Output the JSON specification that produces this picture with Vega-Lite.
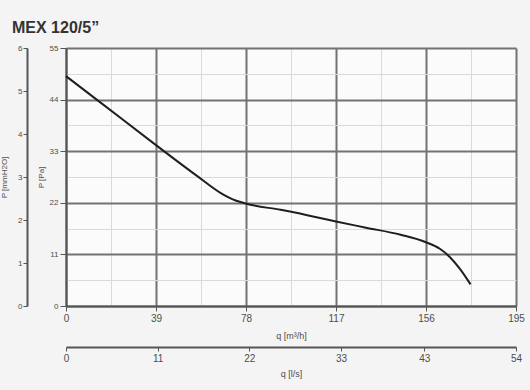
{
  "$schema": "https://vega.github.io/schema/vega-lite/v6.json",
  "width": 450,
  "height": 258,
  "autosize": {"type": "none"},
  "padding": {"left": 66, "top": 48, "right": 14, "bottom": 84},
  "background": "#f4f4f4",
  "title": {
    "text": "MEX 120/5”",
    "anchor": "start",
    "frame": "group",
    "dx": -54,
    "fontSize": 16,
    "fontWeight": "bold",
    "font": "Liberation Sans",
    "color": "#333333",
    "offset": 8
  },
  "config": {
    "view": {"stroke": null, "fill": "#fbfbfb"},
    "axis": {
      "labelFont": "Liberation Sans",
      "titleFont": "Liberation Sans",
      "labelColor": "#4d4d4d",
      "titleColor": "#4d4d4d",
      "titleFontWeight": "normal",
      "domainColor": "#555555",
      "tickColor": "#555555"
    }
  },
  "layer": [
    {
      "data": {
        "values": [
          {"q": 0, "p": 49.0},
          {"q": 13.3, "p": 44.0},
          {"q": 39, "p": 34.3},
          {"q": 56.6, "p": 27.8},
          {"q": 68, "p": 23.8},
          {"q": 72, "p": 22.8},
          {"q": 76, "p": 22.1},
          {"q": 80, "p": 21.6},
          {"q": 93, "p": 20.5},
          {"q": 105, "p": 19.3},
          {"q": 117, "p": 18.0},
          {"q": 130, "p": 16.7},
          {"q": 145, "p": 15.2},
          {"q": 156, "p": 13.6},
          {"q": 162, "p": 12.2},
          {"q": 166.4, "p": 10.4},
          {"q": 170.7, "p": 7.9},
          {"q": 175.3, "p": 4.6}
        ]
      },
      "mark": {"type": "line", "color": "#1e1e1e", "strokeWidth": 2, "interpolate": "monotone"},
      "encoding": {
        "x": {
          "field": "q",
          "type": "quantitative",
          "scale": {"domain": [0, 195], "nice": false, "zero": false},
          "axis": {
            "values": [0, 19.5, 39, 58.5, 78, 97.5, 117, 136.5, 156, 175.5, 195],
            "labelExpr": "datum.value % 39 === 0 ? datum.label : ''",
            "grid": true,
            "gridColor": {"condition": {"test": "datum.value % 39 === 0", "value": "#737373"}, "value": "#dadada"},
            "gridWidth": {"condition": {"test": "datum.value % 39 === 0", "value": 2}, "value": 1},
            "tickColor": {"condition": {"test": "datum.value % 39 === 0", "value": "#555555"}, "value": "transparent"},
            "tickSize": 5,
            "labelPadding": 2,
            "labelFontSize": 10,
            "labelFlush": false,
            "domainWidth": 2,
            "title": "q [m³/h]",
            "titleFontSize": 9,
            "titlePadding": 8
          }
        },
        "y": {
          "field": "p",
          "type": "quantitative",
          "scale": {"domain": [0, 55], "nice": false, "zero": false},
          "axis": {
            "values": [0, 5.5, 11, 16.5, 22, 27.5, 33, 38.5, 44, 49.5, 55],
            "labelExpr": "datum.value % 11 === 0 ? datum.label : ''",
            "grid": true,
            "gridColor": {"condition": {"test": "datum.value % 11 === 0", "value": "#737373"}, "value": "#dadada"},
            "gridWidth": {"condition": {"test": "datum.value % 11 === 0", "value": 2}, "value": 1},
            "tickColor": {"condition": {"test": "datum.value % 11 === 0", "value": "#555555"}, "value": "transparent"},
            "tickSize": 6,
            "labelPadding": 2,
            "labelFontSize": 8,
            "labelFlush": false,
            "domainWidth": 2,
            "title": "P [Pa]",
            "titleFontSize": 8,
            "titlePadding": 4
          }
        }
      }
    },
    {
      "data": {"values": [{"ls": 0, "mm": 0}, {"ls": 54, "mm": 6}]},
      "mark": {"type": "point", "opacity": 0},
      "encoding": {
        "x": {
          "field": "ls",
          "type": "quantitative",
          "scale": {"domain": [0, 54], "nice": false, "zero": false},
          "axis": {
            "orient": "bottom",
            "offset": 41,
            "values": [0, 11, 22, 33, 43, 54],
            "grid": false,
            "tickSize": 4,
            "labelPadding": 2,
            "labelFontSize": 10,
            "labelFlush": false,
            "domainWidth": 2,
            "title": "q [l/s]",
            "titleFontSize": 9,
            "titlePadding": 6
          }
        },
        "y": {
          "field": "mm",
          "type": "quantitative",
          "scale": {"domain": [0, 6], "nice": false, "zero": false},
          "axis": {
            "orient": "left",
            "offset": 39,
            "values": [0, 1, 2, 3, 4, 5, 6],
            "grid": false,
            "tickSize": 4,
            "labelPadding": 1,
            "labelFontSize": 8,
            "labelFlush": false,
            "domainWidth": 2,
            "title": "P [mmH2O]",
            "titleFontSize": 8,
            "titlePadding": 9
          }
        }
      }
    }
  ],
  "resolve": {
    "scale": {"x": "independent", "y": "independent"},
    "axis": {"x": "independent", "y": "independent"}
  }
}
